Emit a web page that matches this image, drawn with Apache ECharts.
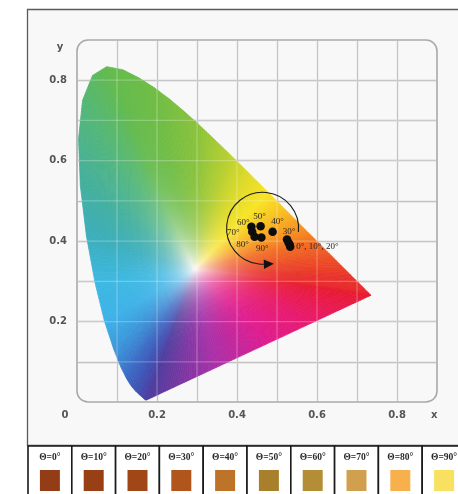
<!DOCTYPE html>
<html>
<head>
<meta charset="utf-8">
<script src="https://cdn.jsdelivr.net/npm/echarts@6/dist/echarts.min.js"></script>
<style>
  html, body { margin: 0; padding: 0; background: #ffffff; }
  #chart { width: 458px; height: 494px; }
</style>
</head>
<body>
<div id="chart"></div>
<script>
// CIE 1931 spectral locus (2° observer), 380–700 nm in 5 nm steps
const wavelengths = [380, 385, 390, 395, 400, 405, 410, 415, 420, 425, 430, 435, 440, 445, 450, 455,
  460, 465, 470, 475, 480, 485, 490, 495, 500, 505, 510, 515, 520, 525, 530, 535, 540, 545, 550,
  555, 560, 565, 570, 575, 580, 585, 590, 595, 600, 605, 610, 615, 620, 625, 630, 635, 640, 645,
  650, 655, 660, 665, 670, 675, 680, 685, 690, 695, 700];
const locusX = [0.1741, 0.1740, 0.1738, 0.1736, 0.1733, 0.1730, 0.1726, 0.1721, 0.1714, 0.1703,
  0.1689, 0.1669, 0.1644, 0.1611, 0.1566, 0.1510, 0.1440, 0.1355, 0.1241, 0.1096, 0.0913, 0.0687,
  0.0454, 0.0235, 0.0082, 0.0039, 0.0139, 0.0389, 0.0743, 0.1142, 0.1547, 0.1929, 0.2296, 0.2658,
  0.3016, 0.3373, 0.3731, 0.4087, 0.4441, 0.4788, 0.5125, 0.5448, 0.5752, 0.6029, 0.6270, 0.6482,
  0.6658, 0.6801, 0.6915, 0.7006, 0.7079, 0.7140, 0.7190, 0.7230, 0.7260, 0.7283, 0.7300, 0.7311,
  0.7320, 0.7327, 0.7334, 0.7340, 0.7344, 0.7346, 0.7347];
const locusY = [0.0050, 0.0050, 0.0049, 0.0049, 0.0048, 0.0048, 0.0048, 0.0048, 0.0051, 0.0058,
  0.0069, 0.0086, 0.0109, 0.0138, 0.0177, 0.0227, 0.0297, 0.0399, 0.0578, 0.0868, 0.1327, 0.2007,
  0.2950, 0.4127, 0.5384, 0.6548, 0.7502, 0.8120, 0.8338, 0.8262, 0.8059, 0.7816, 0.7543, 0.7243,
  0.6923, 0.6589, 0.6245, 0.5896, 0.5547, 0.5202, 0.4866, 0.4544, 0.4242, 0.3965, 0.3725, 0.3514,
  0.3340, 0.3197, 0.3083, 0.2993, 0.2920, 0.2859, 0.2809, 0.2770, 0.2740, 0.2717, 0.2700, 0.2689,
  0.2680, 0.2673, 0.2666, 0.2660, 0.2656, 0.2654, 0.2653];

// Measured chromaticity of the sample at each viewing angle Θ
const angles = [0, 10, 20, 30, 40, 50, 60, 70, 80, 90];
const pointX = [0.533, 0.532, 0.529, 0.525, 0.489, 0.459, 0.436, 0.438, 0.444, 0.461];
const pointY = [0.386, 0.391, 0.396, 0.404, 0.423, 0.437, 0.436, 0.423, 0.411, 0.409];

// Apparent colour of the sample at each angle
const swatchColors = ['#933d17', '#983f15', '#a14616', '#b0561c', '#bd7428',
  '#a8802c', '#b48e36', '#d0a04e', '#f8b04c', '#f8e060'];

// Ring with arrow showing the direction of increasing angle
const ringCenter = [0.464, 0.432];
const ringRadius = 0.09;

// Axis ticks: every 0.1 gets a grid line, these get a label
const gridTicks = [0.1, 0.2, 0.3, 0.4, 0.5, 0.6, 0.7, 0.8];
const xTickLabels = [0, 0.2, 0.4, 0.6, 0.8];
const yTickLabels = [0.2, 0.4, 0.6, 0.8];

// Palette for the chromaticity fill
const whitePoint = [0.295, 0.33];
const whiteColor = '#fbf8f6';
const spectralHues = [
  [380, '#4b3b9c'], [440, '#4840a6'], [460, '#3c52b4'], [470, '#3a66c2'], [478, '#3a8ad4'],
  [484, '#3cb0e8'], [490, '#3cb8e2'], [496, '#3aacb4'], [502, '#44b094'], [510, '#52b674'],
  [520, '#62ba4c'], [535, '#6ebc42'], [550, '#88c23a'], [560, '#b2ce30'], [568, '#e0da28'],
  [575, '#f8e424'], [580, '#f8c820'], [587, '#f89a20'], [595, '#f06a22'], [605, '#ec4a24'],
  [620, '#e8302a'], [700, '#e8182e']
];
const purpleHues = [
  [0, '#e8182e'], [0.25, '#e8186a'], [0.45, '#e01a8e'], [0.7, '#a830a8'], [1, '#4b3b9c']
];

// Annotation placement around each point
const labelPlacement = {
  0: { text: '0°, 10°, 20°', offset: [6, 0], align: 'left' },
  30: { offset: [2, -8] },
  40: { offset: [5, -10] },
  50: { offset: [-1, -10] },
  60: { offset: [-8, -4] },
  70: { offset: [-19, 1] },
  80: { offset: [-12, 8] },
  90: { offset: [1, 11] }
};

function hexToRgb(h) {
  return [parseInt(h.slice(1, 3), 16), parseInt(h.slice(3, 5), 16), parseInt(h.slice(5, 7), 16)];
}
function mixRgb(a, b, t) {
  return a.map((v, i) => v + (b[i] - v) * t);
}
function rgbStr(c) {
  return 'rgb(' + c.map(v => Math.round(v)).join(',') + ')';
}
function sampleHues(list, v) {
  if (v <= list[0][0]) return hexToRgb(list[0][1]);
  for (let i = 1; i < list.length; i++) {
    if (v <= list[i][0]) {
      const t = (v - list[i - 1][0]) / (list[i][0] - list[i - 1][0]);
      return mixRgb(hexToRgb(list[i - 1][1]), hexToRgb(list[i][1]), t);
    }
  }
  return hexToRgb(list[list.length - 1][1]);
}
function lerpPt(a, b, t) {
  return [a[0] + (b[0] - a[0]) * t, a[1] + (b[1] - a[1]) * t];
}

// Closed gamut outline: spectral locus (near-duplicate points dropped) then the line of purples
const PURPLE_STEPS = 30;
const outline = [];
const outlineColor = [];
for (let i = 0; i < wavelengths.length; i++) {
  const p = [locusX[i], locusY[i]];
  const last = outline[outline.length - 1];
  const isEnd = i === wavelengths.length - 1;
  if (last && !isEnd && Math.hypot(p[0] - last[0], p[1] - last[1]) < 0.002) continue;
  if (last && isEnd && Math.hypot(p[0] - last[0], p[1] - last[1]) < 0.002) {
    outline.pop(); outlineColor.pop();
  }
  outline.push(p);
  outlineColor.push(sampleHues(spectralHues, wavelengths[i]));
}
const redEnd = outline[outline.length - 1];
const violetEnd = outline[0];
for (let s = 1; s < PURPLE_STEPS; s++) {
  const t = s / PURPLE_STEPS;
  outline.push(lerpPt(redEnd, violetEnd, t));
  outlineColor.push(sampleHues(purpleHues, t));
}

// Refine the outline so neighbouring wedges differ only slightly in colour
const MAX_STEP = 0.007;
const boundary = [];
const boundaryColor = [];
for (let i = 0; i < outline.length; i++) {
  const j = (i + 1) % outline.length;
  const a = outline[i], b = outline[j];
  const len = Math.hypot(b[0] - a[0], b[1] - a[1]);
  const n = Math.max(1, Math.ceil(len / MAX_STEP));
  for (let s = 0; s < n; s++) {
    boundary.push(lerpPt(a, b, s / n));
    boundaryColor.push(mixRgb(outlineColor[i], outlineColor[j], s / n));
  }
}

const RINGS = 14;
const white = hexToRgb(whiteColor);
function saturation(t) {
  return 1 - Math.pow(1 - t, 4.3);
}

// Each boundary piece is filled by a fan of quads from the white point outwards
function renderGamut(params, api) {
  const i = params.dataIndex;
  const j = (i + 1) % boundary.length;
  const a = boundary[i], b = boundary[j];
  const edge = mixRgb(boundaryColor[i], boundaryColor[j], 0.5);
  const children = [];
  for (let k = 0; k < RINGS; k++) {
    const t0 = Math.pow(k / RINGS, 1.25);
    const t1 = Math.pow((k + 1) / RINGS, 1.25);
    const pts = [lerpPt(whitePoint, a, t0), lerpPt(whitePoint, b, t0),
                 lerpPt(whitePoint, b, t1), lerpPt(whitePoint, a, t1)].map(p => api.coord(p));
    const inner = [(pts[0][0] + pts[1][0]) / 2, (pts[0][1] + pts[1][1]) / 2];
    const outer = [(pts[2][0] + pts[3][0]) / 2, (pts[2][1] + pts[3][1]) / 2];
    const c0 = rgbStr(mixRgb(white, edge, saturation(t0)));
    const c1 = rgbStr(mixRgb(white, edge, saturation(t1)));
    const grad = new echarts.graphic.LinearGradient(inner[0], inner[1], outer[0], outer[1],
      [{ offset: 0, color: c0 }, { offset: 1, color: c1 }], true);
    children.push({
      type: 'polygon',
      shape: { points: pts },
      style: { fill: grad, stroke: grad, lineWidth: 0.7 },
      silent: true
    });
  }
  return { type: 'group', children: children };
}

// Faint grid lines showing through the coloured area
function renderGridSheen(params, api) {
  const v = gridTicks[params.dataIndex];
  const a = api.coord([v, 0]), b = api.coord([v, 0.9]);
  const c = api.coord([0, v]), d = api.coord([0.9, v]);
  const style = { stroke: 'rgba(255,255,255,0.26)', lineWidth: 1.3 };
  return {
    type: 'group',
    children: [
      { type: 'line', shape: { x1: a[0], y1: a[1], x2: b[0], y2: b[1] }, style: style },
      { type: 'line', shape: { x1: c[0], y1: c[1], x2: d[0], y2: d[1] }, style: style }
    ],
    silent: true
  };
}

// Rounded frame around the plotting area
function renderPlotFrame(params, api) {
  const p0 = api.coord([0, 0.9]);
  const p1 = api.coord([0.9, 0]);
  return {
    type: 'rect',
    shape: { x: p0[0], y: p0[1], width: p1[0] - p0[0], height: p1[1] - p0[1], r: 11 },
    style: { fill: null, stroke: '#a9a9a9', lineWidth: 1.6 },
    silent: true
  };
}

// Open ring with arrowhead
function renderRing(params, api) {
  const c = api.coord(ringCenter);
  const r = api.size([ringRadius, 0])[0];
  const endAngle = 88 * Math.PI / 180;
  const startAngle = 6 * Math.PI / 180;
  const ex = c[0] + r * Math.cos(endAngle);
  const ey = c[1] + r * Math.sin(endAngle);
  // travel is anticlockwise on screen, so the tangent points to decreasing angle
  const dx = Math.sin(endAngle), dy = -Math.cos(endAngle);
  const nx = -dy, ny = dx;
  const len = 10, half = 4.8;
  return {
    type: 'group',
    children: [
      {
        type: 'arc',
        shape: { cx: c[0], cy: c[1], r: r, startAngle: startAngle, endAngle: endAngle, clockwise: false },
        style: { fill: null, stroke: '#1a1a1a', lineWidth: 1.1 }
      },
      {
        type: 'polygon',
        shape: { points: [[ex + dx * len, ey + dy * len], [ex + nx * half, ey + ny * half], [ex - nx * half, ey - ny * half]] },
        style: { fill: '#111111' }
      }
    ],
    silent: true
  };
}

// Point annotations
function renderPointLabels(params, api) {
  const i = params.dataIndex;
  const place = labelPlacement[angles[i]];
  if (!place) return null;
  const p = api.coord([pointX[i], pointY[i]]);
  return {
    type: 'text',
    style: {
      text: place.text || (angles[i] + '°'),
      x: p[0] + place.offset[0], y: p[1] + place.offset[1],
      align: place.align || 'center', verticalAlign: 'middle',
      fontFamily: 'Liberation Serif', fontSize: 9, fill: '#262626'
    },
    silent: true
  };
}

// One cell of the swatch table
function renderSwatch(params, api) {
  const i = params.dataIndex;
  const top = api.coord([i, 1]);
  const bw = api.size([1, 0])[0];
  const cx = top[0], y0 = top[1];
  return {
    type: 'group',
    children: [
      {
        type: 'rect',
        shape: { x: cx - bw / 2, y: y0, width: bw, height: 70 },
        style: { fill: '#ffffff', stroke: '#1a1a1a', lineWidth: 1.6 }
      },
      {
        type: 'text',
        style: {
          text: 'Θ=' + angles[i] + '°', x: cx, y: y0 + 12,
          align: 'center', verticalAlign: 'middle',
          fontFamily: 'Liberation Serif', fontSize: 9.5, fontWeight: 'bold', fill: '#2a2a2a'
        }
      },
      {
        type: 'rect',
        shape: { x: cx - 10, y: y0 + 24, width: 20, height: 21 },
        style: { fill: swatchColors[i] }
      }
    ],
    silent: true
  };
}

function isTick(list, v) {
  return list.some(t => Math.abs(t - v) < 1e-6);
}

const axisFont = { fontFamily: 'DejaVu Sans', fontSize: 10, fontWeight: 'bold', color: '#555555' };
const gridLine = { color: '#b9b9b9', width: 1.3 };

const chart = echarts.init(document.getElementById('chart'), null, { renderer: 'canvas' });
chart.setOption({
  animation: false,
  backgroundColor: '#ffffff',
  graphic: [{
    type: 'rect',
    z: -10,
    shape: { x: 27.5, y: 9.5, width: 450, height: 436 },
    style: { fill: '#f8f8f8', stroke: '#5a5a5a', lineWidth: 1.3 },
    silent: true
  }],
  grid: [
    { left: 77, top: 40, width: 360, height: 362, outerBoundsMode: 'none', containLabel: false },
    { left: 28, top: 446, width: 438, height: 60, outerBoundsMode: 'none', containLabel: false }
  ],
  xAxis: [
    {
      type: 'value', gridIndex: 0, min: 0, max: 0.9, interval: 0.1,
      name: 'x', nameLocation: 'end', nameGap: -6,
      nameTextStyle: Object.assign({ align: 'left', verticalAlign: 'top', padding: [8, 0, 0, 0] }, axisFont),
      axisLine: { show: false }, axisTick: { show: false },
      axisLabel: {
        margin: 8, showMinLabel: true, showMaxLabel: true, hideOverlap: false,
        fontFamily: axisFont.fontFamily, fontSize: axisFont.fontSize, fontWeight: axisFont.fontWeight, color: axisFont.color,
        formatter: v => {
          if (!isTick(xTickLabels, v)) return '';
          return v === 0 ? '{o|0}' : v.toFixed(1);
        },
        rich: { o: Object.assign({ padding: [0, 24, 0, 0] }, axisFont) }
      },
      splitLine: { show: true, showMinLine: false, showMaxLine: false, lineStyle: gridLine }
    },
    {
      type: 'category', gridIndex: 1, data: angles.map(a => a + '°'), show: false
    }
  ],
  yAxis: [
    {
      type: 'value', gridIndex: 0, min: 0, max: 0.9, interval: 0.1,
      name: 'y', nameLocation: 'end', nameGap: -7,
      nameTextStyle: Object.assign({ align: 'center', verticalAlign: 'middle', padding: [0, 34, 0, 0] }, axisFont),
      axisLine: { show: false }, axisTick: { show: false },
      axisLabel: {
        margin: 10, showMinLabel: true, showMaxLabel: true, hideOverlap: false,
        fontFamily: axisFont.fontFamily, fontSize: axisFont.fontSize, fontWeight: axisFont.fontWeight, color: axisFont.color,
        formatter: v => isTick(yTickLabels, v) ? v.toFixed(1) : ''
      },
      splitLine: { show: true, showMinLine: false, showMaxLine: false, lineStyle: gridLine }
    },
    {
      type: 'value', gridIndex: 1, min: 0, max: 1, show: false
    }
  ],
  series: [
    {
      type: 'custom', name: 'frame', xAxisIndex: 0, yAxisIndex: 0, z: 1,
      renderItem: renderPlotFrame, data: [[0, 0]], silent: true, clip: false
    },
    {
      type: 'custom', name: 'gamut', xAxisIndex: 0, yAxisIndex: 0, z: 2,
      renderItem: renderGamut, data: boundary, silent: true, clip: false
    },
    {
      type: 'custom', name: 'gridSheen', xAxisIndex: 0, yAxisIndex: 0, z: 3,
      renderItem: renderGridSheen, data: gridTicks.map(v => [v, v]), silent: true, clip: false
    },
    {
      type: 'custom', name: 'ring', xAxisIndex: 0, yAxisIndex: 0, z: 4,
      renderItem: renderRing, data: [ringCenter], silent: true, clip: false
    },
    {
      type: 'scatter', name: 'angles', xAxisIndex: 0, yAxisIndex: 0, z: 5,
      symbol: 'circle', symbolSize: 8.5,
      itemStyle: { color: '#0d0d0d', opacity: 1 },
      data: angles.map((a, i) => [pointX[i], pointY[i]]), silent: true
    },
    {
      type: 'custom', name: 'angleLabels', xAxisIndex: 0, yAxisIndex: 0, z: 6,
      renderItem: renderPointLabels, data: angles.map((a, i) => [pointX[i], pointY[i]]), silent: true, clip: false
    },
    {
      type: 'custom', name: 'swatches', xAxisIndex: 1, yAxisIndex: 1, z: 3,
      renderItem: renderSwatch, data: angles.map((a, i) => [i, 1]), silent: true, clip: false
    }
  ]
});
</script>
</body>
</html>
